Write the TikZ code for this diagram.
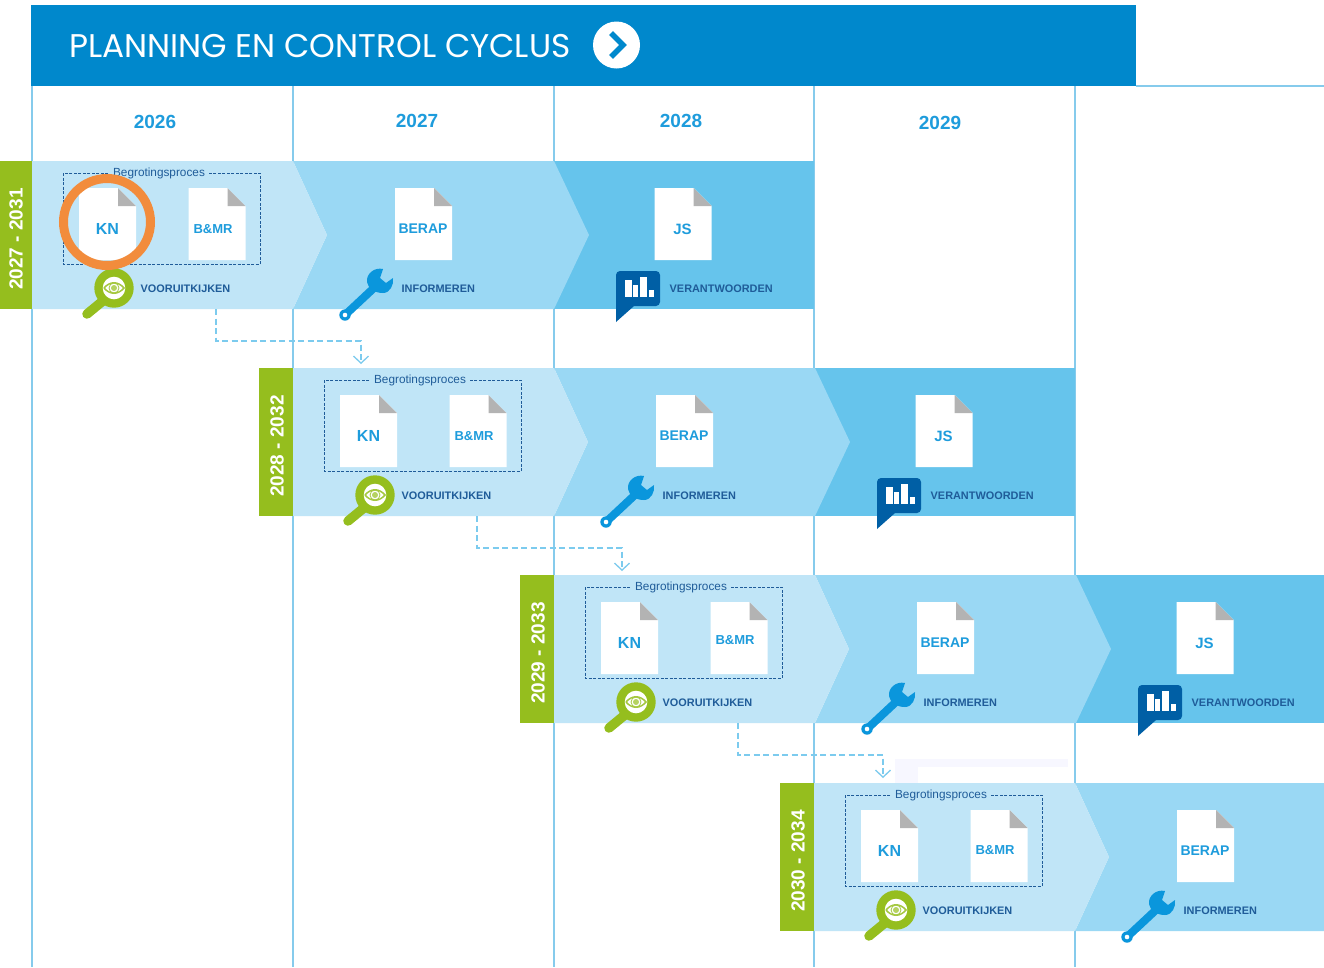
\documentclass[tikz,border=0pt]{standalone}
\usepackage{fontspec}
\setmainfont{Liberation Sans}
\newfontfamily\titlefont{Poppins}
\usetikzlibrary{arrows.meta}
\definecolor{bandA}{HTML}{C0E5F7}
\definecolor{bandB}{HTML}{9AD8F4}
\definecolor{bandC}{HTML}{66C4EC}
\definecolor{headblue}{HTML}{0088CC}
\definecolor{gridblue}{HTML}{86CBEC}
\definecolor{textblue}{HTML}{1E9CDC}
\definecolor{darkblue}{HTML}{1F5C99}
\definecolor{barblue}{HTML}{005FA5}
\definecolor{wrenchblue}{HTML}{0A96DC}
\definecolor{leaf}{HTML}{95BE1E}
\definecolor{ring}{HTML}{F28C3C}
\definecolor{flow}{HTML}{7CCBEE}
\definecolor{foldgray}{HTML}{B3B3B3}
\tikzset{
  gridline/.style={draw=gridblue,line width=1.4pt},
  yearlab/.style={text=textblue,font=\fontsize{19}{19}\selectfont\bfseries,inner sep=0pt},
  doclab/.style={text=textblue,inner sep=0pt,font=\bfseries},
  steplab/.style={text=darkblue,anchor=west,inner sep=0pt,font=\fontsize{10.9}{11}\selectfont\bfseries},
  rowlab/.style={text=white,rotate=90,inner sep=0pt,font=\fontsize{19}{19}\selectfont\bfseries},
  proclab/.style={text=darkblue,inner sep=3pt,font=\fontsize{11.8}{12}\selectfont},
  flowline/.style={draw=flow,line width=2.3pt,dash pattern=on 6pt off 3.5pt,-{Straight Barb[length=7pt,width=15pt,line width=1.3pt]}},
}
\newcommand{\docshape}[2]{%
  \fill[white] (#1,#2) -- ++(39,0) -- ++(18,18) -- ++(0,54) -- ++(-57,0) -- cycle;
  \fill[foldgray] (#1,#2) ++(39,0) -- ++(18,18) -- ++(-18,0) -- cycle;
}
\newcommand{\wrenchicon}[2]{% head x, head y
  \begin{scope}[shift={(#1,#2)}]
    \draw[wrenchblue,line width=8pt] (-4,6) -- (-35,35);
    \fill[wrenchblue] (3,-11) .. controls (-6,-13) and (-14,-6) .. (-13,2)
      .. controls (-12,8) and (-6,13) .. (3,13)
      .. controls (10,13) and (14,5) .. (13,-2)
      -- (6,3) -- (0,-2) -- cycle;
    \fill[wrenchblue] (-35,35) circle[radius=5.7];
    \fill[white] (-35,35) circle[radius=2.3];
  \end{scope}
}
\newcommand{\bubbleicon}[2]{%
  \begin{scope}[shift={(#1,#2)}]
    \fill[barblue,rounded corners=4pt] (0,0) rectangle (44,35);
    \fill[barblue] (0,25) -- (0,51) -- (18,35) -- cycle;
    \fill[white] (9,9) rectangle (16,26);
    \fill[white] (17,14) rectangle (22,26);
    \fill[white] (24,6) rectangle (31,26);
    \fill[white] (33,19) rectangle (37.5,26);
  \end{scope}
}
\newcommand{\lensicon}[2]{%
  \begin{scope}[shift={(#1,#2)}]
    \draw[leaf,line width=9.5pt,line cap=round] (-10,12) -- (-27,26);
    \fill[leaf] (0,0) circle[radius=19.7];
    \fill[white] (0,0) circle[radius=11.3];
    \draw[leaf!85!white,line width=1.5pt] (-10,0) .. controls (-4,-7) and (4,-7) .. (10,0) .. controls (4,7) and (-4,7) .. (-10,0);
    \fill[leaf!70!white] (0,0) circle[radius=3];
    \draw[leaf!85!white,line width=.8pt] (0,0) circle[radius=5];
  \end{scope}
}
% #1 id, #2 x0, #3 y0, #4 B&MR label y, #5 draw third phase (1/0)
\newcommand{\planrow}[5]{%
  \begin{scope}[shift={(#2,#3)}]
    \ifnum#5=1
      \fill[bandC] (522,0) rectangle (782,148);
    \fi
    \fill[bandB] (261,0) -- (522,0) -- (557,74) -- (522,148) -- (261,148) -- (295,74) -- cycle;
    \fill[bandA] (0,0) -- (261,0) -- (295,74) -- (261,148) -- (0,148) -- cycle;
    \fill[leaf] (-34.5,0) rectangle (0,148);
    \node[rowlab] (#1year) at (-16,78) {#1};
    \draw[darkblue,line width=.8pt,dash pattern=on 3pt off 1.5pt] (31,12) rectangle (228,103);
    \node[proclab,fill=bandA] (#1proc) at (127,12) {Begrotingsproces};
    \docshape{47}{27}
    \node[doclab,font=\fontsize{16}{16}\selectfont\bfseries] (#1kn) at (75.5,67.5) {KN};
    \docshape{156.5}{27}
    \node[doclab,font=\fontsize{13}{13}\selectfont\bfseries] (#1bmr) at (181,#4) {B\&MR};
    \lensicon{82}{127}
    \node[steplab] (#1look) at (108.5,127.5) {VOORUITKIJKEN};
    \docshape{363}{27}
    \node[doclab,font=\fontsize{14}{14}\selectfont\bfseries] (#1berap) at (391,67.5) {BERAP};
    \wrenchicon{348}{119}
    \node[steplab] (#1inf) at (369.5,127.5) {INFORMEREN};
    \ifnum#5=1
      \docshape{622.5}{27}
      \node[doclab,font=\fontsize{15}{15}\selectfont\bfseries] (#1js) at (650.5,68.5) {JS};
      \bubbleicon{584}{110}
      \node[steplab] (#1ver) at (637.5,127.5) {VERANTWOORDEN};
    \fi
    \coordinate (#1out) at (184,148);
    \coordinate (#1in) at (329,203);
  \end{scope}
}
\begin{document}
\begin{tikzpicture}[x=1pt,y=-1pt]
  \useasboundingbox (0,0) rectangle (1324,967);
  \clip (0,0) rectangle (1324,967);
  \fill[white] (0,0) rectangle (1324,967);
  % faint artefact above the last row
  \fill[blue!3] (895,759) rectangle (1068,783);
  \fill[white] (918,767) rectangle (1068,783);
  % grid
  \foreach \gx in {32,293,554,814,1075}
    \draw[gridline] (\gx,86) -- (\gx,967);
  \draw[gridline] (1136,86) -- (1324,86);
  % header
  \fill[headblue] (31,5) rectangle (1136,86);
  \node[text=white,anchor=west,inner sep=0pt,font=\titlefont\fontsize{32.8}{33}\selectfont] (title) at (69,46) {PLANNING EN CONTROL CYCLUS};
  \node[circle,fill=white,minimum size=47pt,inner sep=0pt] (go) at (616.5,45) {};
  \draw[headblue,line width=5.5pt] (611,33) -- (623,45) -- (611,57);
  % years
  \node[yearlab] (y26) at (155,122) {2026};
  \node[yearlab] (y27) at (417,121) {2027};
  \node[yearlab] (y28) at (681,121) {2028};
  \node[yearlab] (y29) at (940,123) {2029};
  % rows
  \planrow{2027 - 2031}{32}{161}{68}{1}
  \planrow{2028 - 2032}{293}{368}{68}{1}
  \planrow{2029 - 2033}{554}{575}{65}{1}
  \planrow{2030 - 2034}{814}{783}{67}{0}
  % connectors
  \draw[flowline] (2027 - 2031out) -- ++(0,32) -| (2027 - 2031in);
  \draw[flowline] (2028 - 2032out) -- ++(0,32) -| (2028 - 2032in);
  \draw[flowline] (2029 - 2033out) -- ++(0,32) -| (2029 - 2033in);
  % highlight
  \draw[ring,line width=9pt] (107,222) circle[radius=43.5];
\end{tikzpicture}
\end{document}
